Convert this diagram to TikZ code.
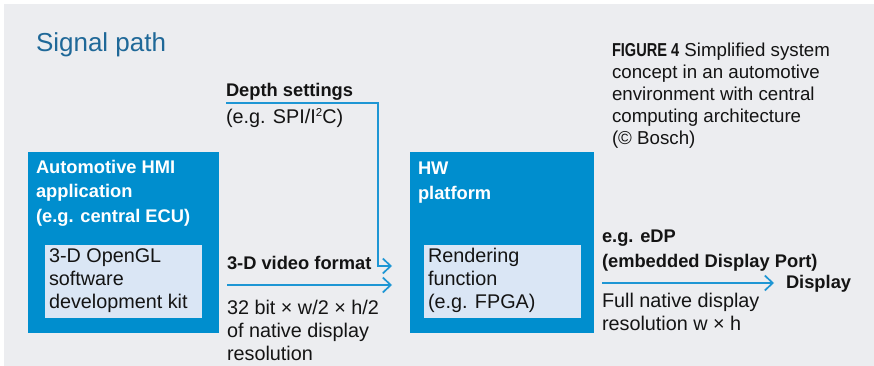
\documentclass[tikz,border=0pt]{standalone}
\usepackage{fontspec}
\setmainfont{Liberation Sans}
\usetikzlibrary{arrows.meta}
\definecolor{bgray}{RGB}{236,237,240}
\definecolor{boxblue}{RGB}{0,142,206}
\definecolor{innerblue}{RGB}{218,230,245}
\definecolor{lineblue}{RGB}{30,150,212}
\definecolor{titleblue}{RGB}{31,104,152}
\definecolor{ink}{RGB}{20,20,20}
% multi-line nodes are placed by the baseline of their last line
\tikzset{
  txt/.style={anchor=base west, inner sep=0pt, outer sep=0pt, align=left, text=ink},
  reg/.style={txt, font=\fontsize{19.8}{23}\selectfont},
  bld/.style={txt, font=\fontsize{18.3}{24.5}\selectfont\bfseries},
  hdr/.style={bld, text=white},
  bigbox/.style={fill=boxblue, draw=none},
  kitbox/.style={fill=innerblue, draw=none},
  arr/.style={draw=lineblue, line width=1.7pt,
    -{Straight Barb[length=8pt,width=15pt,line width=1.7pt]}},
}
\newcommand{\smallsup}[1]{\raisebox{0.75ex}{\fontsize{11.5}{12}\selectfont #1}}
\begin{document}
\begin{tikzpicture}[x=1pt, y=-1pt]
  \useasboundingbox (0,0) rectangle (874,366);
  \fill[bgray] (4,4) rectangle (874,366);

  % heading and caption
  \node[txt, font=\fontsize{26}{30}\selectfont, text=titleblue] (title) at (36,52) {Signal path};
  \node[txt, font=\fontsize{18.7}{22}\selectfont] (caption) at (612,145)
    {\scalebox{0.78}[1]{\bfseries FIGURE 4} Simplified system\\
     concept in an automotive\\
     environment with central\\
     computing architecture\\
     (© Bosch)};

  % application block
  \fill[bigbox] (28,152) rectangle (219,333);
  \node[hdr] (apphead) at (36,222) {Automotive HMI\\application\\(e.g. central ECU)};
  \fill[kitbox] (45,245) rectangle (202,318);
  \node[reg] (sdk) at (49,308) {3-D OpenGL\\software\\development kit};

  % hardware block
  \fill[bigbox] (410,152) rectangle (594,333);
  \node[hdr] (hwhead) at (418,199) {HW\\platform};
  \fill[kitbox] (424,245) rectangle (581,318);
  \node[reg] (render) at (428,308) {Rendering\\function\\(e.g. FPGA)};

  % depth settings link
  \node[bld] (depth) at (226,97) {Depth settings};
  \node[reg] (bus) at (226,124) {(e.g. SPI/I\smallsup{2}C)};
  \coordinate (depthstart) at (226,103);
  \coordinate (depthbend) at (378,103);
  \coordinate (depthdrop) at (378,266);
  \coordinate (depthend) at (392,266);
  \draw[arr] (depthstart) -- (depthbend) -- (depthdrop) -- (depthend);

  % video link
  \node[bld] (vidfmt) at (227,269) {3-D video format};
  \node[reg] (viddesc) at (227,360) {32 bit × w/2 × h/2\\of native display\\resolution};
  \coordinate (vidstart) at (227,285);
  \coordinate (vidend) at (392,285);
  \draw[arr] (vidstart) -- (vidend);

  % display link
  \node[bld] (edp) at (602,267) {e.g. eDP\\(embedded Display Port)};
  \node[reg] (fullres) at (602,330) {Full native display\\resolution w × h};
  \node[bld] (display) at (786,288) {Display};
  \coordinate (outstart) at (602,283);
  \draw[arr] (outstart) -- ([xshift=-12pt]display.west |- outstart);
\end{tikzpicture}
\end{document}
